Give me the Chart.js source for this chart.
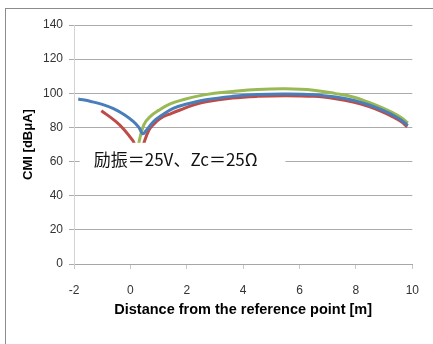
<!DOCTYPE html>
<html>
<head>
<meta charset="utf-8">
<script src="https://cdn.jsdelivr.net/npm/chart.js@4.4.1/dist/chart.umd.min.js"></script>
<style>
  html, body { margin: 0; padding: 0; background: #fff; }
  #wrap { position: relative; width: 433px; height: 344px; }
</style>
</head>
<body>
<div id="wrap"><canvas id="cmiChart" width="433" height="344"></canvas></div>
<script>
// distance [m] and CMI [dBuA]
const blueX = [-1.85, -1.4, -1, -0.6, -0.2, 0.1, 0.3, 0.44, 0.56, 0.83, 1.1, 1.52, 2, 2.68, 3.62, 4.5, 5.5, 6.5, 7.28, 7.9, 8.44, 8.9, 9.26, 9.6, 9.84];
const blueY = [96.7, 95.2, 93.5, 91, 87.3, 83.5, 80, 76.3, 78.2, 83.6, 87, 91.2, 93.7, 96.2, 98.2, 99.3, 99.6, 99.2, 97.8, 95.9, 93.3, 90.4, 87.6, 84.4, 81.2];

const redX = [-1.03, -0.51, -0.22, 0.07, 0.13, 0.3, 0.48, 0.65, 0.8, 1.06, 1.46, 1.76, 2.2, 2.68, 3.62, 4.5, 5.5, 6.5, 7.28, 7.9, 8.44, 8.9, 9.26, 9.6, 9.82];
const redY = [89.8, 83.4, 78.7, 72.7, 70.9, 62, 70.9, 78.2, 81.4, 85.3, 88.3, 90.2, 92.9, 95, 97.2, 98.2, 98.6, 98.2, 96.8, 94.9, 92.3, 89.4, 86.6, 83.4, 80.4];

const greenX = [0.22, 0.3, 0.48, 0.71, 1.0, 1.41, 1.93, 2.34, 2.98, 3.62, 4.5, 5.5, 6.5, 7.28, 7.9, 8.44, 8.9, 9.26, 9.6, 9.84];
const greenY = [62, 70.9, 81.6, 86.5, 90, 93.8, 96.5, 98.2, 100, 101.1, 102.2, 102.6, 101.8, 99.8, 97.8, 94.8, 91.8, 89, 85.8, 82.6];

const xTitle = 'Distance from the reference point [m]';
const yTitle = 'CMI [dBμA]';
const noteText = '励振＝25V、Zc＝25Ω';

const toPoints = (xs, ys) => xs.map((x, i) => ({ x, y: ys[i] }));

function series(xs, ys, color) {
  return {
    data: toPoints(xs, ys),
    borderColor: color,
    backgroundColor: color,
    borderWidth: 3,
    pointRadius: 0,
    tension: 0.4,
    fill: false
  };
}

// outer frame of the chart object (runs off the right/bottom edge)
const framePlugin = {
  id: 'frame',
  beforeDraw(chart) {
    const ctx = chart.ctx;
    ctx.save();
    ctx.strokeStyle = '#8c8c8c';
    ctx.lineWidth = 1;
    ctx.strokeRect(5.5, 8.5, 600, 500);
    ctx.restore();
  }
};

// white text box sitting over the curves
const notePlugin = {
  id: 'note',
  afterDatasetsDraw(chart) {
    const { ctx, scales: { x, y } } = chart;
    const l = x.getPixelForValue(-1.8), r = x.getPixelForValue(5.5);
    const t = y.getPixelForValue(71), b = y.getPixelForValue(49);
    ctx.save();
    ctx.fillStyle = '#fff';
    ctx.fillRect(l, t, r - l, b - t);
    ctx.fillStyle = '#111';
    ctx.font = '17px "Noto Sans CJK JP"';
    ctx.textBaseline = 'middle';
    ctx.fillText(noteText, x.getPixelForValue(-1.3), y.getPixelForValue(61));
    ctx.restore();
  }
};

new Chart(document.getElementById('cmiChart'), {
  type: 'line',
  data: {
    datasets: [
      series(blueX, blueY, '#4a7ebb'),
      series(redX, redY, '#be4b48'),
      series(greenX, greenY, '#98b954')
    ]
  },
  options: {
    responsive: false,
    animation: false,
    layout: { padding: { top: 25, right: 15, left: 0, bottom: 0 } },
    plugins: { legend: { display: false }, tooltip: { enabled: false } },
    scales: {
      x: {
        type: 'linear',
        min: -2,
        max: 10,
        afterFit: s => { s.height = 80; },
        ticks: { stepSize: 2, padding: 14, color: '#333', font: { family: 'Liberation Sans', size: 12 } },
        grid: { drawOnChartArea: false, drawTicks: true, tickLength: 5, tickColor: '#c8c8c8' },
        border: { color: '#a6a6a6' },
        title: {
          display: true,
          text: xTitle,
          color: '#000',
          font: { family: 'Liberation Sans', size: 14.5, weight: 'bold' },
          padding: { top: 0, bottom: 25 }
        }
      },
      y: {
        min: 0,
        max: 140,
        afterFit: s => { s.width = 74; },
        ticks: { stepSize: 20, padding: 6, color: '#333', font: { family: 'Liberation Sans', size: 12 } },
        grid: { color: '#ababab', tickColor: '#ababab', tickLength: 5 },
        border: { color: '#d4d4d4' },
        title: {
          display: true,
          text: yTitle,
          color: '#000',
          font: { family: 'Liberation Sans', size: 13, weight: 'bold' },
          padding: { top: 21, bottom: 0 }
        }
      }
    }
  },
  plugins: [framePlugin, notePlugin]
});
</script>
</body>
</html>
